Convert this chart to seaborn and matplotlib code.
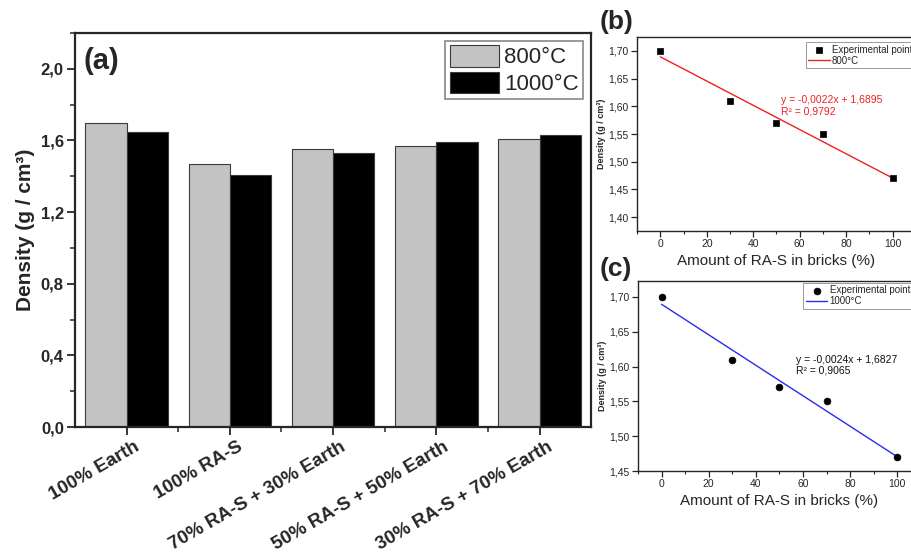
import pandas as pd
import matplotlib
matplotlib.use("Agg")
import matplotlib.pyplot as plt
import matplotlib.transforms as mtrans
from matplotlib.ticker import FuncFormatter, MultipleLocator
import seaborn as sns

# données
mixes = ["100% Earth", "100% RA-S", "70% RA-S + 30% Earth",
         "50% RA-S + 50% Earth", "30% RA-S + 70% Earth"]
dens_800 = [1.70, 1.47, 1.55, 1.57, 1.61]
dens_1000 = [1.65, 1.41, 1.53, 1.59, 1.63]

ras_pct = [0, 30, 50, 70, 100]
pts_800 = [1.70, 1.61, 1.57, 1.55, 1.47]
pts_1000 = [1.70, 1.61, 1.57, 1.55, 1.47]

# équations affichées sur les panneaux (b) et (c)
slope_800, icpt_800, r2_800 = -0.0022, 1.6895, 0.9792
slope_1000, icpt_1000, r2_1000 = -0.0024, 1.6827, 0.9065

sns.set_style("ticks")
plt.rcParams["font.family"] = ["Liberation Sans", "DejaVu Sans"]


def comma(fmt):
    return FuncFormatter(lambda v, p: format(v, fmt).replace(".", ","))


df = pd.DataFrame({
    "mix": mixes * 2,
    "density": dens_800 + dens_1000,
    "temp": ["800°C"] * len(mixes) + ["1000°C"] * len(mixes),
})

fig = plt.figure(figsize=(9.12, 5.54), dpi=100)

# ---- (a) barres
ax = fig.add_axes([0.0822, 0.2292, 0.566, 0.7112])
sns.barplot(data=df, x="mix", y="density", hue="temp", ax=ax,
            palette=["#c3c3c3", "#000000"], edgecolor="#3a3a3a",
            linewidth=0.8, width=0.8)
ax.set_xlim(-0.5, 4.5)
ax.set_ylim(0, 2.2)
ax.yaxis.set_major_locator(MultipleLocator(0.4))
ax.yaxis.set_minor_locator(MultipleLocator(0.2))
ax.yaxis.set_major_formatter(comma(".1f"))
ax.set_xticks([0.5, 1.5, 2.5, 3.5], minor=True)
ax.set_xlabel("")
ax.set_ylabel("Density (g / cm³)", fontsize=15, fontweight="bold", labelpad=4)
for s in ax.spines.values():
    s.set_visible(True)
    s.set_linewidth(1.6)
ax.tick_params(which="major", length=6, width=1.3, labelsize=12, pad=2)
ax.tick_params(which="minor", length=3.5, width=1.1)
for lab in ax.get_yticklabels():
    lab.set_fontweight("bold")
shift = mtrans.ScaledTranslation(0.07, 0, fig.dpi_scale_trans)
for lab in ax.get_xticklabels():
    lab.set_rotation(30)
    lab.set_ha("right")
    lab.set_va("top")
    lab.set_rotation_mode("anchor")
    lab.set_fontweight("bold")
    lab.set_fontsize(13.5)
    lab.set_transform(lab.get_transform() + shift)
h, l = ax.get_legend_handles_labels()
leg = ax.legend(h, l, loc="upper right", fontsize=16, frameon=True, fancybox=False,
                edgecolor="#888888", framealpha=1, handlelength=2.2,
                handleheight=1.1, labelspacing=0.15, handletextpad=0.25,
                borderpad=0.2, borderaxespad=0.35)
leg.get_frame().set_linewidth(1.2)
ax.text(0.016, 0.93, "(a)", transform=ax.transAxes, fontsize=21,
        fontweight="bold", va="center", ha="left")


def fit_panel(rect, y, slope, icpt, r2, marker, colour, label, ylim,
              txt_colour, txt_xy, leg_xy):
    a = fig.add_axes(rect)
    sns.scatterplot(x=ras_pct, y=y, ax=a, marker=marker, color="black",
                    s=24, edgecolor="black", linewidth=0.5,
                    label="Experimental points", zorder=3)
    sns.regplot(x=ras_pct, y=y, ax=a, scatter=False, ci=None, label=label,
                line_kws=dict(color=colour, linewidth=1.0))
    a.set_xlim(-10, 110)
    a.set_ylim(*ylim)
    a.xaxis.set_major_locator(MultipleLocator(20))
    a.xaxis.set_minor_locator(MultipleLocator(10))
    a.yaxis.set_major_locator(MultipleLocator(0.05))
    a.yaxis.set_major_formatter(comma(".2f"))
    a.tick_params(which="major", length=4, width=0.9, labelsize=7.5, pad=2)
    a.tick_params(which="minor", length=2.5, width=0.8)
    for s in a.spines.values():
        s.set_visible(True)
        s.set_linewidth(1.0)
    a.set_xlabel("Amount of RA-S in bricks (%)", fontsize=11, labelpad=3)
    a.set_ylabel("Density (g / cm³)", fontsize=6.5, fontweight="bold", labelpad=2)
    eq = "y = {:.4f}x + {:.4f}\nR² = {:.4f}".format(slope, icpt, r2).replace(".", ",")
    a.text(txt_xy[0], txt_xy[1], eq, color=txt_colour, fontsize=7.5,
           va="top", ha="left", linespacing=1.1)
    lg = a.legend(loc="upper left", bbox_to_anchor=leg_xy, fontsize=7,
                  frameon=True, fancybox=False, edgecolor="#999999",
                  framealpha=1, handlelength=2.2, labelspacing=0.1,
                  borderpad=0.25, handletextpad=0.25, borderaxespad=0)
    lg.get_frame().set_linewidth(0.7)
    return a


fit_panel([0.6985, 0.583, 0.3058, 0.350], pts_800, slope_800, icpt_800, r2_800,
          "s", "#f02020", "800°C", (1.375, 1.725), "#f02020",
          (52, 1.62), (0.605, 0.974))
fit_panel([0.6996, 0.1498, 0.31, 0.343], pts_1000, slope_1000, icpt_1000, r2_1000,
          "o", "#2a2af0", "1000°C", (1.45, 1.723), "#111111",
          (57, 1.617), (0.585, 0.99))

fig.text(0.657, 0.96, "(b)", fontsize=19, fontweight="bold", va="center", ha="left")
fig.text(0.657, 0.515, "(c)", fontsize=19, fontweight="bold", va="center", ha="left")

fig.savefig("out.png", dpi=100)
